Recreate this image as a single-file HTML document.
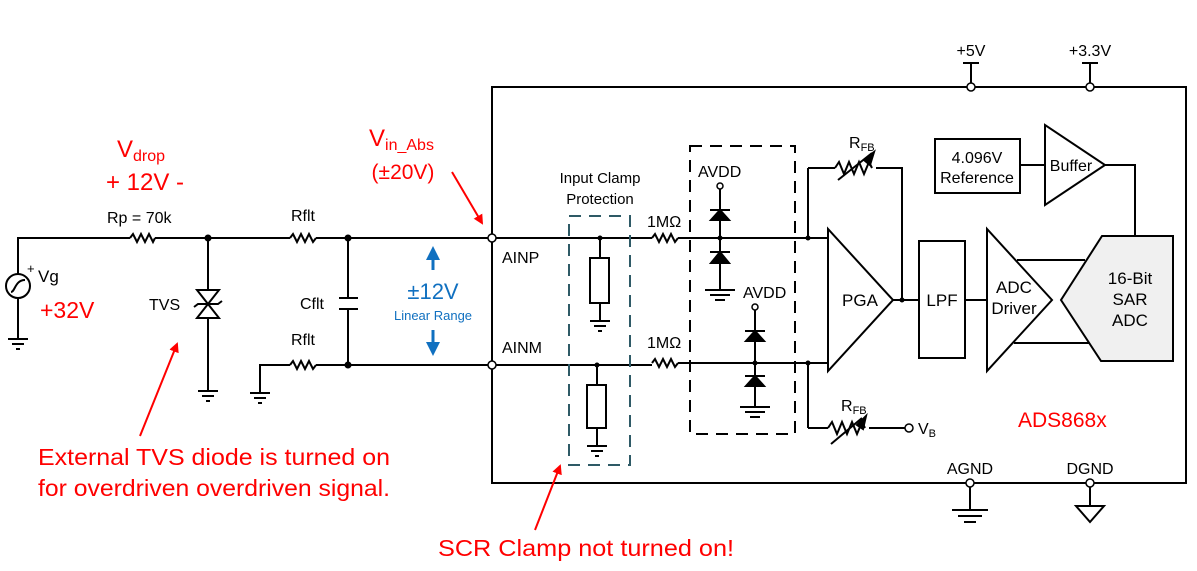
<!DOCTYPE html>
<html><head><meta charset="utf-8"><style>
html,body{margin:0;padding:0;background:#fff;}
svg{display:block;}
text{font-family:"Liberation Sans",Arial,sans-serif;}
</style></head><body>
<svg width="1197" height="571" viewBox="0 0 1197 571" xmlns="http://www.w3.org/2000/svg">
<defs>
<marker id="ra" markerWidth="10" markerHeight="10" refX="8" refY="5" orient="auto" markerUnits="userSpaceOnUse"><path d="M0,0 L10,5 L0,10 z" fill="#f00"/></marker>
</defs>
<g stroke="#000" stroke-width="2" fill="none">
<rect x="492" y="87" width="694" height="396"/>
<line x1="971" y1="87" x2="971" y2="63"/><line x1="963" y1="63" x2="979" y2="63"/>
<line x1="1090" y1="87" x2="1090" y2="63"/><line x1="1082" y1="63" x2="1098" y2="63"/>
<polyline points="18,274 18,238 130,238"/>
<path d="M130,238 l3,-4 l4,8 l4,-8 l4,8 l4,-8 l4,8 l2,-4"/>
<line x1="155" y1="238" x2="290" y2="238"/>
<path d="M290,238 l3,-4 l4,8 l4,-8 l4,8 l4,-8 l4,8 l3,-4"/>
<line x1="316" y1="238" x2="492" y2="238"/>
<circle cx="18" cy="286" r="12"/>
<path d="M11,292 c4,0 4,-12 14,-12" />
<line x1="18" y1="298" x2="18" y2="339"/>
<line x1="208" y1="238" x2="208" y2="290"/>
<path d="M197,290 L219,290 L208,304 Z M197,318 L219,318 L208,304 Z"/>
<path d="M194,307 L198,304 L218,304 L222,301"/>
<line x1="208" y1="318" x2="208" y2="390"/>
<line x1="348" y1="238" x2="348" y2="298"/>
<line x1="339" y1="298" x2="358" y2="298"/><line x1="339" y1="309" x2="358" y2="309"/>
<line x1="348" y1="309" x2="348" y2="365"/>
<polyline points="260,393 260,365 290,365"/>
<path d="M290,365 l3,-4 l4,8 l4,-8 l4,8 l4,-8 l4,8 l3,-4"/>
<line x1="316" y1="365" x2="492" y2="365"/>
<line x1="492" y1="238" x2="652" y2="238"/>
<path d="M652,238 l3,-4 l4,8 l4,-8 l4,8 l4,-8 l4,8 l3,-4"/>
<line x1="678" y1="238" x2="828" y2="238"/>
<line x1="492" y1="365" x2="652" y2="365"/>
<path d="M652,363 l3,-4 l4,8 l4,-8 l4,8 l4,-8 l4,8 l3,-4"/>
<line x1="678" y1="363" x2="828" y2="363"/>
<line x1="600" y1="238" x2="600" y2="258"/><rect x="590" y="258" width="19" height="45"/><line x1="600" y1="303" x2="600" y2="321"/>
<line x1="597" y1="365" x2="597" y2="385"/><rect x="587" y="385" width="19" height="43"/><line x1="597" y1="428" x2="597" y2="446"/>
<line x1="720" y1="189" x2="720" y2="290"/>
<line x1="755" y1="310" x2="755" y2="406"/>
<line x1="808" y1="238" x2="808" y2="168"/><line x1="808" y1="168" x2="835" y2="168"/>
<path d="M835,168 l4,-6 l5,12 l5,-12 l5,12 l5,-12 l5,12 l5,-12 l3,6"/>
<polyline points="876,168 902,168 902,300"/>
<line x1="808" y1="363" x2="808" y2="428"/><line x1="808" y1="428" x2="828" y2="428"/>
<path d="M828,428 l4,-6 l5,12 l5,-12 l5,12 l5,-12 l5,12 l5,-12 l3,6"/>
<line x1="869" y1="428" x2="905" y2="428"/>
<line x1="838" y1="180" x2="872" y2="153"/>
<line x1="831" y1="444" x2="862" y2="418"/>
<polygon points="828,229 828,371 893,300"/>
<line x1="893" y1="300" x2="919" y2="300"/>
<rect x="919" y="241" width="46" height="117"/>
<line x1="965" y1="300" x2="987" y2="300"/>
<polygon points="987,229 987,371 1052,300"/>
<line x1="1017" y1="260" x2="1085" y2="260"/>
<line x1="1014" y1="343" x2="1090" y2="343"/>
<polygon points="1102,236 1173,236 1173,361 1101,361 1061,300" fill="#f0f0f0"/>
<rect x="935" y="139" width="85" height="54"/>
<line x1="1020" y1="165" x2="1045" y2="165"/>
<polygon points="1045,125 1045,205 1105,165"/>
<polyline points="1105,165 1135,165 1135,236"/>
<line x1="970" y1="483" x2="970" y2="510"/>
<line x1="1090" y1="483" x2="1090" y2="506"/>
<polygon points="1076,506 1104,506 1090,522"/>
</g>
<g stroke="#000" stroke-width="2">
<line x1="8" y1="339" x2="28" y2="339"/><line x1="12" y1="344" x2="24" y2="344"/><line x1="16" y1="349" x2="20" y2="349"/>
<line x1="198" y1="391" x2="218" y2="391"/><line x1="202" y1="396" x2="214" y2="396"/><line x1="206" y1="401" x2="210" y2="401"/>
<line x1="250" y1="393" x2="270" y2="393"/><line x1="254" y1="398" x2="266" y2="398"/><line x1="258" y1="403" x2="262" y2="403"/>
<line x1="590" y1="321" x2="610" y2="321"/><line x1="594" y1="326" x2="606" y2="326"/><line x1="598" y1="331" x2="602" y2="331"/>
<line x1="587" y1="446" x2="607" y2="446"/><line x1="591" y1="451" x2="603" y2="451"/><line x1="595" y1="456" x2="599" y2="456"/>
<line x1="705" y1="290" x2="735" y2="290"/><line x1="710" y1="295" x2="730" y2="295"/><line x1="715" y1="300" x2="725" y2="300"/>
<line x1="740" y1="407" x2="770" y2="407"/><line x1="745" y1="412" x2="765" y2="412"/><line x1="750" y1="417" x2="760" y2="417"/>
<line x1="952" y1="510" x2="988" y2="510"/><line x1="958" y1="516" x2="982" y2="516"/><line x1="964" y1="522" x2="976" y2="522"/>
</g>
<g fill="#000" stroke="#000" stroke-width="2">
<polygon points="711,220 729,220 720,210"/><line x1="710" y1="210" x2="730" y2="210"/>
<polygon points="711,263 729,263 720,252"/><line x1="710" y1="252" x2="730" y2="252"/>
<polygon points="746,341 764,341 755,331"/><line x1="745" y1="331" x2="765" y2="331"/>
<polygon points="746,386 764,386 755,376"/><line x1="745" y1="376" x2="765" y2="376"/>
<polygon points="864,160 874,152 870,165"/>
<polygon points="857,425 866,416 863,429"/>
</g>
<g fill="#000">
<circle cx="208" cy="238" r="3.5"/><circle cx="348" cy="238" r="3.5"/><circle cx="348" cy="365" r="3.5"/>
<circle cx="600" cy="238" r="2.5"/><circle cx="597" cy="365" r="2.5"/><circle cx="720" cy="238" r="2.5"/><circle cx="755" cy="363" r="2.5"/>
<circle cx="808" cy="238" r="2.5"/><circle cx="808" cy="363" r="2.5"/><circle cx="902" cy="300" r="2.5"/>
</g>
<g fill="#fff" stroke="#000" stroke-width="1.5">
<circle cx="492" cy="238" r="4"/><circle cx="492" cy="365" r="4"/>
<circle cx="971" cy="87" r="4"/><circle cx="1090" cy="87" r="4"/>
<circle cx="970" cy="483" r="4"/><circle cx="1090" cy="483" r="4"/>
<circle cx="720" cy="186" r="3"/><circle cx="755" cy="307" r="3"/><circle cx="909" cy="428" r="4"/>
</g>
<rect x="569" y="216" width="61" height="249" fill="none" stroke="#2e5a66" stroke-width="2" stroke-dasharray="12,8"/>
<rect x="690" y="146" width="105" height="288" fill="none" stroke="#000" stroke-width="2" stroke-dasharray="12,8"/>
<g fill="#1070c0" stroke="#1070c0" stroke-width="3">
<line x1="433" y1="256" x2="433" y2="270"/><polygon points="426,260 440,260 433,246" stroke="none"/>
<line x1="433" y1="330" x2="433" y2="345"/><polygon points="426,342 440,342 433,356" stroke="none"/>
</g>
<text x="433" y="299" font-size="22" fill="#1070c0" text-anchor="middle">±12V</text>
<text x="433" y="320" font-size="13" fill="#1070c0" text-anchor="middle">Linear Range</text>
<g font-size="16" fill="#000">
<text x="107" y="223">Rp = 70k</text>
<text x="291" y="221">Rflt</text>
<text x="291" y="345">Rflt</text>
<text x="300" y="309">Cflt</text>
<text x="149" y="310">TVS</text>
<text x="38" y="282" font-size="17">Vg</text>
<text x="27" y="273" font-size="13">+</text>
<text x="502" y="263">AINP</text>
<text x="502" y="353">AINM</text>
<text x="600" y="183" text-anchor="middle" font-size="15">Input Clamp</text>
<text x="600" y="204" text-anchor="middle" font-size="15">Protection</text>
<text x="647" y="227">1MΩ</text>
<text x="647" y="348">1MΩ</text>
<text x="698" y="177">AVDD</text>
<text x="743" y="298">AVDD</text>
<text x="849" y="148">R<tspan font-size="11" dy="3">FB</tspan></text>
<text x="841" y="411">R<tspan font-size="11" dy="3">FB</tspan></text>
<text x="918" y="434">V<tspan font-size="11" dy="3">B</tspan></text>
<text x="860" y="306" text-anchor="middle" font-size="17">PGA</text>
<text x="942" y="306" text-anchor="middle" font-size="17">LPF</text>
<text x="1014" y="293" text-anchor="middle" font-size="17">ADC</text>
<text x="1014" y="314" text-anchor="middle" font-size="17">Driver</text>
<text x="1130" y="284" text-anchor="middle" font-size="17">16-Bit</text>
<text x="1130" y="305" text-anchor="middle" font-size="17">SAR</text>
<text x="1130" y="326" text-anchor="middle" font-size="17">ADC</text>
<text x="977" y="163" text-anchor="middle">4.096V</text>
<text x="977" y="183" text-anchor="middle">Reference</text>
<text x="1071" y="171" text-anchor="middle">Buffer</text>
<text x="971" y="56" text-anchor="middle">+5V</text>
<text x="1090" y="56" text-anchor="middle">+3.3V</text>
<text x="970" y="474" text-anchor="middle">AGND</text>
<text x="1090" y="474" text-anchor="middle">DGND</text>
</g>
<g fill="#f00">
<text x="117" y="157" font-size="24">V<tspan font-size="16" dy="4">drop</tspan></text>
<text x="145" y="190" font-size="24" text-anchor="middle">+ 12V -</text>
<text x="40" y="318" font-size="23">+32V</text>
<text x="369" y="146" font-size="24">V<tspan font-size="16" dy="4">in_Abs</tspan></text>
<text x="403" y="179" font-size="21" text-anchor="middle">(±20V)</text>
<text x="1018" y="427" font-size="21">ADS868x</text>
<text x="38" y="465" font-size="23" textLength="352" lengthAdjust="spacingAndGlyphs">External TVS diode is turned on</text>
<text x="38" y="496" font-size="23" textLength="352" lengthAdjust="spacingAndGlyphs">for overdriven overdriven signal.</text>
<text x="438" y="556" font-size="23" textLength="296" lengthAdjust="spacingAndGlyphs">SCR Clamp not turned on!</text>
</g>
<g stroke="#f00" stroke-width="2" fill="none">
<line x1="452" y1="172" x2="482" y2="223" marker-end="url(#ra)"/>
<line x1="140" y1="436" x2="177" y2="344" marker-end="url(#ra)"/>
<line x1="535" y1="530" x2="560" y2="466" marker-end="url(#ra)"/>
</g>
</svg>
</body></html>
